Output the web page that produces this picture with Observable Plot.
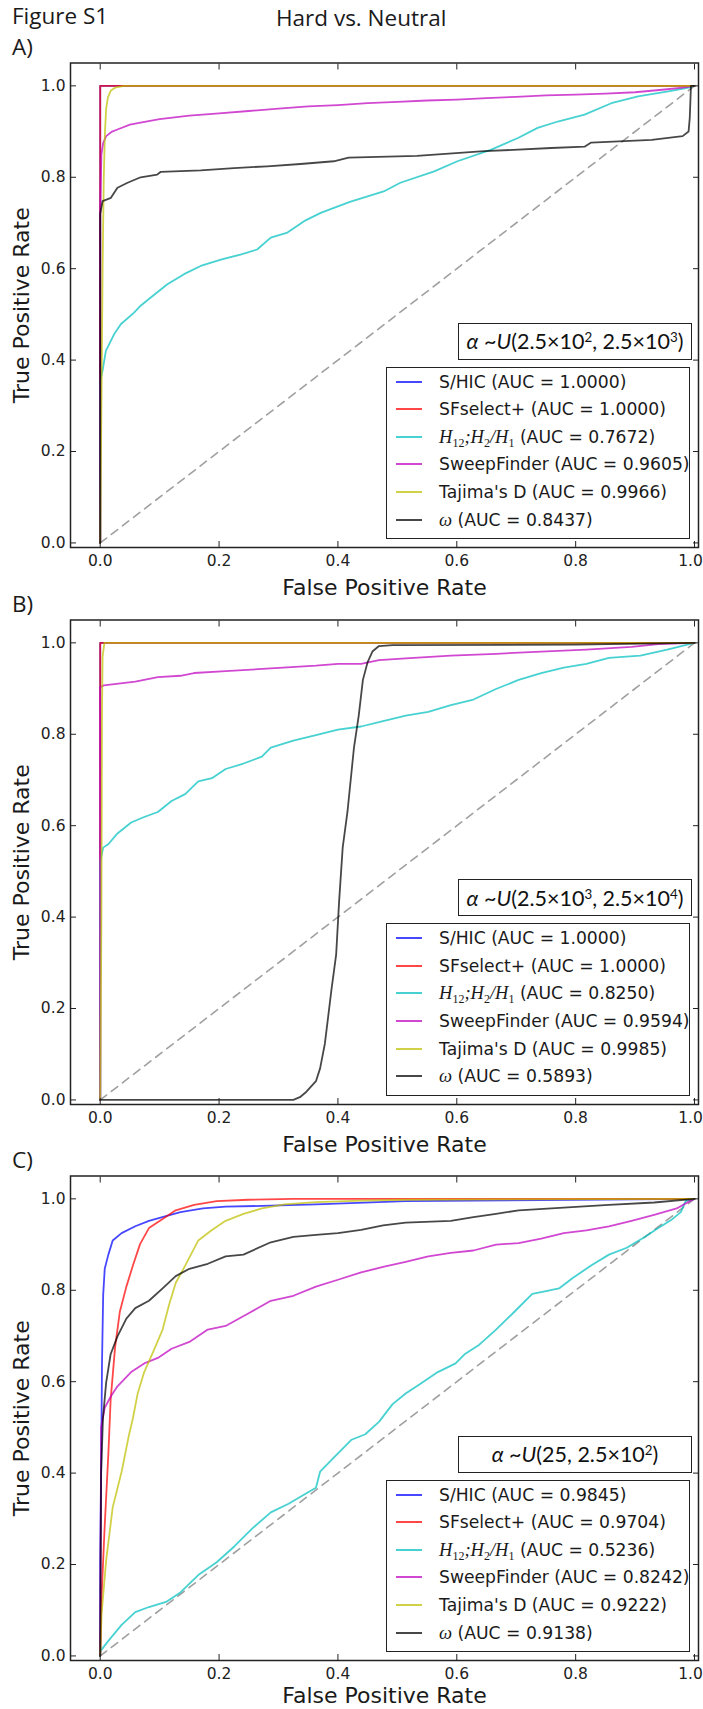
<!DOCTYPE html>
<html><head><meta charset="utf-8">
<script src="https://cdn.jsdelivr.net/npm/d3@7"></script>
<script src="https://cdn.jsdelivr.net/npm/@observablehq/plot@0.6"></script>
<style>
html,body{margin:0;padding:0;background:#fff;overflow:hidden;}
#page{position:relative;width:703px;height:1709px;overflow:hidden;background:#fff;}
.abs{position:absolute;white-space:nowrap;line-height:normal;}
.cal{font-family:"Open Sans", sans-serif;color:#1a1a1a;font-size:22.5px;}
.panel{position:absolute;left:0;width:703px;height:560px;}
.panel svg{overflow:visible;background:transparent;}
.tbox{position:absolute;border:1.5px solid #222;background:#fff;box-sizing:border-box;display:flex;align-items:center;justify-content:center;font-family:Lato, sans-serif;font-size:21.5px;color:#111;white-space:nowrap;}
.tbox sup{font-size:0.62em;vertical-align:0.55em;line-height:0;}
.lbox{position:absolute;border:1.5px solid #222;background:#fff;box-sizing:border-box;}
.row{position:absolute;left:0;height:28px;line-height:28px;font-family:"DejaVu Sans", sans-serif;font-size:17.2px;color:#1a1a1a;white-space:nowrap;}
.swatch{position:absolute;width:26px;height:2px;}
.math{font-family:"Liberation Serif", serif;font-style:italic;font-size:18.5px;}
.math sub{font-size:0.65em;font-style:normal;vertical-align:-0.3em;line-height:0;}
</style></head><body><div id="page"></div>
<script>
// ---------- data ----------
const methods = ["S/HIC", "SFselect+", "H12;H2/H1", "SweepFinder", "Tajima's D", "ω"];
const colors = ["#0000ff", "#ff0000", "#00bfbf", "#bf00bf", "#bfbf00", "#000000"];
const aucA = ["1.0000", "1.0000", "0.7672", "0.9605", "0.9966", "0.8437"];
const aucB = ["1.0000", "1.0000", "0.8250", "0.9594", "0.9985", "0.5893"];
const aucC = ["0.9845", "0.9704", "0.5236", "0.8242", "0.9222", "0.9138"];
const panelLabels = ["A)", "B)", "C)"];
const alphaLow = ["2.5×10<sup>2</sup>", "2.5×10<sup>3</sup>", "25"];
const alphaHigh = ["2.5×10<sup>3</sup>", "2.5×10<sup>4</sup>", "2.5×10<sup>2</sup>"];
const xTicks = [0, 0.2, 0.4, 0.6, 0.8, 1.0];
const yTicks = [0, 0.2, 0.4, 0.6, 0.8, 1.0];
const diagonal = [[0, 0], [1, 1]];

// Panel A: [false positive rate, true positive rate]
const A_SHIC = [[0, 0], [0, 1], [1, 1]];
const A_SFSEL = [[0, 0], [0, 1], [1, 1]];
const A_H12 = [[0,0],[0,0.355],[0.004,0.377],[0.0095,0.42],[0.0235,0.457],[0.035,0.479],[0.057,0.504],[0.068,0.519],[0.085,0.537],[0.113,0.566],[0.141,0.588],[0.169,0.606],[0.203,0.62],[0.236,0.631],[0.264,0.642],[0.287,0.668],[0.315,0.679],[0.343,0.704],[0.371,0.722],[0.42,0.746],[0.477,0.769],[0.505,0.788],[0.562,0.813],[0.601,0.835],[0.657,0.86],[0.703,0.886],[0.736,0.908],[0.77,0.922],[0.815,0.937],[0.86,0.962],[0.905,0.977],[0.956,0.988],[0.99,0.996],[1,1]];
const A_SWEEP = [[0,0],[0,0.72],[0.002,0.85],[0.005,0.875],[0.01,0.89],[0.02,0.9],[0.03,0.905],[0.05,0.915],[0.07,0.92],[0.1,0.927],[0.15,0.935],[0.2,0.94],[0.25,0.945],[0.3,0.95],[0.35,0.955],[0.4,0.958],[0.45,0.962],[0.5,0.965],[0.55,0.968],[0.6,0.97],[0.65,0.973],[0.7,0.976],[0.75,0.979],[0.8,0.981],[0.85,0.983],[0.9,0.986],[0.95,0.992],[0.98,0.996],[1,1]];
const A_TAJIMA = [[0,0],[0.002,0.3],[0.004,0.6],[0.006,0.8],[0.008,0.9],[0.01,0.95],[0.013,0.975],[0.018,0.99],[0.025,0.996],[0.04,1],[1,1]];
const A_OMEGA = [[0,0],[0,0.72],[0.004,0.748],[0.018,0.755],[0.029,0.777],[0.046,0.788],[0.068,0.8],[0.096,0.806],[0.102,0.812],[0.169,0.815],[0.225,0.82],[0.281,0.824],[0.337,0.829],[0.393,0.835],[0.418,0.843],[0.533,0.847],[0.646,0.857],[0.759,0.864],[0.815,0.867],[0.826,0.876],[0.928,0.882],[0.98,0.89],[0.99,0.9],[0.992,0.93],[0.994,1],[1,1]];

// Panel B
const B_SHIC = [[0, 0], [0, 1], [1, 1]];
const B_SFSEL = [[0, 0], [0, 1], [1, 1]];
const B_H12 = [[0,0],[0,0.521],[0.005,0.552],[0.014,0.56],[0.029,0.583],[0.052,0.607],[0.074,0.619],[0.097,0.63],[0.12,0.654],[0.143,0.669],[0.165,0.697],[0.188,0.704],[0.211,0.724],[0.241,0.736],[0.272,0.751],[0.287,0.771],[0.325,0.786],[0.363,0.798],[0.4,0.81],[0.439,0.817],[0.476,0.829],[0.514,0.841],[0.552,0.849],[0.59,0.864],[0.628,0.876],[0.666,0.899],[0.704,0.919],[0.742,0.934],[0.78,0.946],[0.818,0.954],[0.856,0.967],[0.909,0.972],[0.954,0.985],[1,1]];
const B_SWEEP = [[0,0],[0,0.903],[0.006,0.907],[0.059,0.915],[0.097,0.925],[0.135,0.928],[0.158,0.934],[0.211,0.938],[0.287,0.944],[0.363,0.95],[0.4,0.954],[0.439,0.954],[0.469,0.962],[0.514,0.966],[0.59,0.972],[0.666,0.976],[0.742,0.981],[0.818,0.985],[0.894,0.991],[0.939,0.997],[1,1]];
const B_TAJIMA = [[0,0],[0.002,0.4],[0.003,0.85],[0.004,0.97],[0.007,1],[1,1]];
const B_OMEGA = [[0,0],[0.325,0],[0.336,0.006],[0.347,0.018],[0.363,0.041],[0.37,0.069],[0.378,0.123],[0.389,0.24],[0.397,0.318],[0.402,0.435],[0.408,0.552],[0.416,0.63],[0.427,0.771],[0.435,0.841],[0.442,0.919],[0.45,0.958],[0.458,0.981],[0.469,0.993],[0.492,0.995],[0.8,0.996],[1,1]];

// Panel C
const C_SHIC = [[0,0],[0,0.21],[0.0015,0.4],[0.003,0.64],[0.005,0.79],[0.0076,0.847],[0.0137,0.878],[0.021,0.909],[0.036,0.925],[0.059,0.94],[0.082,0.952],[0.112,0.963],[0.135,0.971],[0.173,0.979],[0.211,0.983],[0.287,0.985],[0.363,0.988],[0.514,0.995],[0.742,0.997],[1,1]];
const C_SFSEL = [[0,0],[0.0023,0.131],[0.0076,0.286],[0.0137,0.442],[0.0175,0.559],[0.025,0.675],[0.033,0.753],[0.044,0.808],[0.055,0.854],[0.067,0.901],[0.082,0.936],[0.105,0.956],[0.127,0.975],[0.158,0.987],[0.196,0.995],[0.249,0.998],[0.325,1],[1,1]];
const C_H12 = [[0,0],[0,0.01],[0.0137,0.033],[0.036,0.068],[0.059,0.096],[0.082,0.107],[0.112,0.119],[0.135,0.139],[0.165,0.177],[0.196,0.205],[0.226,0.24],[0.256,0.279],[0.287,0.314],[0.317,0.333],[0.347,0.356],[0.363,0.368],[0.37,0.403],[0.393,0.434],[0.423,0.473],[0.446,0.485],[0.469,0.512],[0.492,0.551],[0.514,0.574],[0.537,0.594],[0.568,0.621],[0.598,0.64],[0.613,0.66],[0.636,0.679],[0.666,0.714],[0.697,0.753],[0.727,0.792],[0.742,0.796],[0.772,0.804],[0.795,0.827],[0.826,0.854],[0.856,0.878],[0.886,0.893],[0.917,0.917],[0.939,0.936],[0.962,0.955],[0.977,0.971],[0.985,0.995],[1,1]];
const C_SWEEP = [[0,0],[0.0015,0.5],[0.0076,0.543],[0.0175,0.567],[0.029,0.59],[0.052,0.621],[0.074,0.64],[0.097,0.652],[0.12,0.672],[0.15,0.687],[0.181,0.714],[0.211,0.722],[0.249,0.749],[0.287,0.777],[0.325,0.788],[0.363,0.808],[0.4,0.823],[0.439,0.839],[0.476,0.851],[0.514,0.862],[0.552,0.874],[0.59,0.882],[0.628,0.887],[0.666,0.9],[0.704,0.903],[0.742,0.913],[0.78,0.925],[0.818,0.931],[0.856,0.94],[0.894,0.952],[0.932,0.965],[0.97,0.979],[0.992,0.995],[1,1]];
const C_TAJIMA = [[0,0],[0.0023,0.092],[0.01,0.209],[0.021,0.325],[0.036,0.403],[0.048,0.481],[0.055,0.52],[0.063,0.574],[0.074,0.621],[0.09,0.668],[0.105,0.714],[0.116,0.769],[0.127,0.816],[0.143,0.854],[0.165,0.909],[0.188,0.932],[0.211,0.952],[0.241,0.967],[0.272,0.979],[0.31,0.988],[0.363,0.993],[0.439,0.996],[0.514,0.998],[1,1]];
const C_OMEGA = [[0,0],[0.0015,0.4],[0.0046,0.52],[0.01,0.598],[0.0175,0.66],[0.029,0.699],[0.044,0.738],[0.059,0.761],[0.082,0.777],[0.105,0.804],[0.127,0.831],[0.15,0.847],[0.181,0.858],[0.211,0.874],[0.241,0.878],[0.287,0.905],[0.325,0.917],[0.363,0.921],[0.4,0.925],[0.439,0.932],[0.476,0.942],[0.514,0.948],[0.59,0.952],[0.628,0.96],[0.666,0.967],[0.704,0.975],[0.78,0.981],[0.856,0.987],[0.932,0.992],[1,1]];

const panelSeries = [
  [A_SHIC, A_SFSEL, A_H12, A_SWEEP, A_TAJIMA, A_OMEGA],
  [B_SHIC, B_SFSEL, B_H12, B_SWEEP, B_TAJIMA, B_OMEGA],
  [C_SHIC, C_SFSEL, C_H12, C_SWEEP, C_TAJIMA, C_OMEGA]
];
const panelAUC = [aucA, aucB, aucC];

// ---------- layout ----------
const page = document.getElementById("page");
const W = 703, SVG_H = 560, TOP0 = 40, STEP = 556.5;
const fmt = d3.format(".1f");

function addDiv(parent, cls, css, html) {
  const d = document.createElement("div");
  d.className = cls;
  Object.assign(d.style, css);
  d.innerHTML = html;
  parent.appendChild(d);
  return d;
}

addDiv(page, "abs cal", {left: "12px", top: "0.3px"}, "Figure S1");
addDiv(page, "abs cal", {left: "276px", top: "1.9px"}, "Hard vs. Neutral");

function methodLabel(k) {
  if (k === 2) return '<span class="math">H<sub>12</sub>;H<sub>2</sub>/H<sub>1</sub></span>';
  if (k === 5) return '<span class="math">ω</span>';
  return methods[k];
}

function makePlot(series, i) {
  return Plot.plot({
    width: W, height: SVG_H,
    marginLeft: 70, marginRight: 5, marginTop: 22.5, marginBottom: 53,
    x: {domain: [-0.05, 1.0067]},
    y: {domain: [-0.01, 1.05]},
    style: {fontFamily: "DejaVu Sans", fontSize: "15.5px", color: "#222", background: "transparent", overflow: "visible"},
    marks: [
      Plot.line(diagonal, {x: d => d[0], y: d => d[1], stroke: "#a0a0a0", strokeWidth: 1.6, strokeDasharray: "8,6"}),
      ...series.map((pts, k) => Plot.line(pts, {x: d => d[0], y: d => d[1], stroke: colors[k], strokeOpacity: 0.72, strokeWidth: 1.8})),
      Plot.axisX({anchor: "bottom", ticks: xTicks.slice(0, -1), tickFormat: fmt, tickSize: 0, tickPadding: 7, fontSize: 15.5, label: null}),
      Plot.axisX({anchor: "bottom", ticks: xTicks.slice(-1), tickFormat: fmt, tickSize: 0, tickPadding: 7, fontSize: 15.5, label: null, dx: -4}),
      Plot.axisY({anchor: "left", ticks: yTicks, tickFormat: fmt, tickSize: 0, tickPadding: 5, fontSize: 15.5, label: null}),
      Plot.axisX({anchor: "bottom", ticks: xTicks, tickFormat: () => "", tickSize: 6, dy: -6, label: null}),
      Plot.axisX({anchor: "top", ticks: xTicks, tickFormat: () => "", tickSize: 6, dy: 6, label: null}),
      Plot.axisY({anchor: "left", ticks: yTicks, tickFormat: () => "", tickSize: 6, dx: 6, label: null}),
      Plot.axisY({anchor: "right", ticks: yTicks, tickFormat: () => "", tickSize: 6, dx: -6, label: null}),
      Plot.frame({stroke: "#222", strokeWidth: 1.5}),
      Plot.text(["False Positive Rate"], {frameAnchor: "bottom", text: d => d, lineAnchor: "middle", textAnchor: "middle", dy: i === 2 ? 35 : 40, fontSize: 22, fill: "#1a1a1a"}),
      Plot.text(["True Positive Rate"], {frameAnchor: "left", text: d => d, rotate: -90, lineAnchor: "middle", textAnchor: "middle", dx: -49, fontSize: 22, fill: "#1a1a1a"})
    ]
  });
}

panelSeries.forEach((series, i) => {
  const top = TOP0 + i * STEP;
  const div = addDiv(page, "panel", {top: top + "px"}, "");
  div.appendChild(makePlot(series, i));
  // panel letter
  addDiv(page, "abs cal", {left: "12px", top: (31 + i * STEP) + "px"}, panelLabels[i]);
  // alpha box
  addDiv(div, "tbox", {left: "458px", top: "282.5px", width: "234px", height: "37px"},
    `<span><i>α</i> ~<i>U</i>(${alphaLow[i]}, ${alphaHigh[i]})</span>`);
  // legend box
  const lb = addDiv(div, "lbox", {left: "385.5px", top: "326.7px", width: "304.5px", height: "172.5px"}, "");
  methods.forEach((m, k) => {
    const cy = 14 + k * 27.6;
    addDiv(lb, "swatch", {left: "9.5px", top: (cy - 1) + "px", background: colors[k], opacity: 0.72}, "");
    addDiv(lb, "row", {left: "52.5px", top: (cy - 14) + "px"}, `${methodLabel(k)} (AUC = ${panelAUC[i][k]})`);
  });
});
</script></body></html>
